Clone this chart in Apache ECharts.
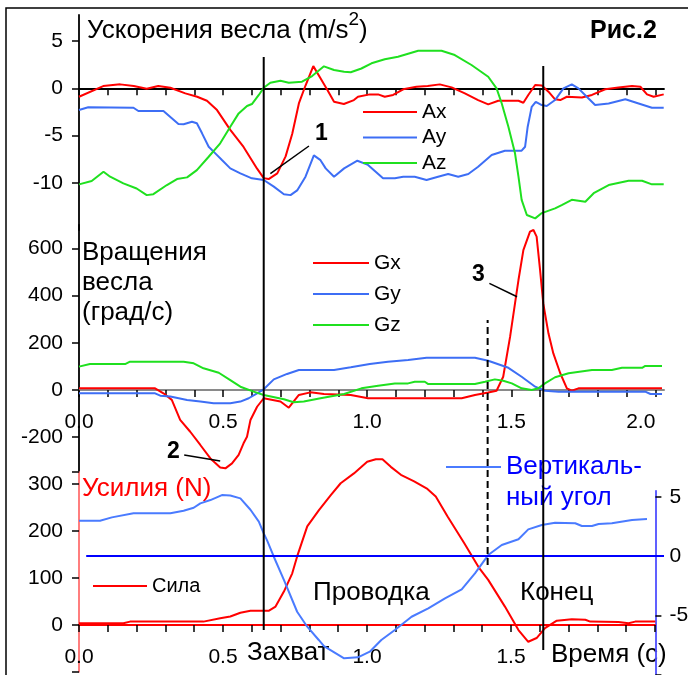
<!DOCTYPE html>
<html><head><meta charset="utf-8">
<script src="https://cdn.jsdelivr.net/npm/echarts@6/dist/echarts.min.js"></script>
<style>html,body{margin:0;padding:0;background:#fff}#c{width:688px;height:675px}</style>
</head><body><div id="c"></div>
<script>
// ---- data (time in s, value) ----
const accelX = [[0,-0.89],[0.084,0.24],[0.143,0.42],[0.19,0.24],[0.235,-0.04],[0.275,0.24],[0.317,0.06],[0.369,-0.53],[0.41,-0.89],[0.444,-1.31],[0.479,-2.3],[0.525,-4.4],[0.571,-6.2],[0.618,-8.5],[0.641,-9.5],[0.658,-9.6],[0.688,-9.0],[0.717,-7.2],[0.74,-4.8],[0.763,-1.6],[0.786,0.3],[0.813,2.35],[0.838,1.06],[0.862,-0.18],[0.885,-1.42],[0.919,-1.66],[0.954,-1.24],[0.968,-0.89],[1.009,-0.64],[1.038,-0.64],[1.061,-0.89],[1.09,-0.7],[1.125,-0.1],[1.171,0.17],[1.21,0.24],[1.252,0.42],[1.293,0.1],[1.339,-0.53],[1.385,-1.24],[1.42,-1.7],[1.455,-1.31],[1.525,-1.31],[1.542,-1.52],[1.559,-0.7],[1.583,0.35],[1.606,0.3],[1.629,-0.35],[1.652,-1.16],[1.67,-1.24],[1.693,-0.89],[1.745,-0.96],[1.78,-0.7],[1.826,-0.1],[1.872,0.1],[1.919,0.24],[1.948,0.17],[1.971,-0.64],[1.994,-0.89],[2.029,-0.64]];
const accelY = [[0,-2.3],[0.032,-2.0],[0.189,-2.05],[0.206,-2.4],[0.293,-2.4],[0.322,-3.17],[0.345,-3.78],[0.363,-3.8],[0.392,-3.53],[0.409,-3.7],[0.427,-4.76],[0.45,-6.18],[0.473,-6.88],[0.496,-7.59],[0.525,-8.47],[0.56,-9.0],[0.6,-9.52],[0.641,-9.7],[0.676,-10.4],[0.711,-11.2],[0.734,-11.3],[0.757,-10.8],[0.786,-9.35],[0.815,-7.1],[0.838,-7.6],[0.856,-8.47],[0.885,-9.35],[0.92,-8.47],[0.966,-7.66],[1.003,-8.1],[1.055,-9.52],[1.096,-9.52],[1.125,-9.35],[1.165,-9.35],[1.206,-9.7],[1.246,-9.35],[1.281,-9.07],[1.316,-9.35],[1.351,-9.07],[1.385,-8.3],[1.432,-7.06],[1.478,-6.6],[1.536,-6.6],[1.548,-6.18],[1.557,-4.06],[1.571,-1.95],[1.585,-1.42],[1.606,-1.77],[1.623,-1.87],[1.652,-1.24],[1.681,0],[1.71,0.42],[1.733,0],[1.762,-0.89],[1.791,-1.77],[1.838,-1.6],[1.896,-1.16],[1.942,-1.6],[1.988,-2.05],[2.029,-2.05]];
const accelZ = [[0,-10.16],[0.044,-9.81],[0.085,-8.82],[0.108,-9.35],[0.154,-10.05],[0.2,-10.6],[0.235,-11.3],[0.258,-11.2],[0.305,-10.23],[0.34,-9.6],[0.375,-9.42],[0.409,-8.65],[0.45,-7.24],[0.49,-5.82],[0.525,-4.06],[0.554,-2.65],[0.583,-1.87],[0.6,-1.66],[0.624,-0.7],[0.641,0.06],[0.664,0.6],[0.699,0.8],[0.728,0.6],[0.774,0.7],[0.809,1.3],[0.85,2.33],[0.885,1.94],[0.92,1.76],[0.943,1.7],[0.98,2.1],[1.015,2.65],[1.061,3.07],[1.107,3.35],[1.177,3.98],[1.258,3.98],[1.304,3.52],[1.362,2.47],[1.42,1.23],[1.449,0],[1.467,-1.6],[1.49,-4.06],[1.513,-6.88],[1.525,-9.35],[1.536,-11.8],[1.554,-13.4],[1.583,-13.76],[1.606,-13.2],[1.652,-12.7],[1.675,-12.35],[1.71,-11.8],[1.757,-12.0],[1.786,-11.1],[1.838,-10.23],[1.907,-9.78],[1.954,-9.78],[1.988,-10.16],[2.029,-10.16]];

const gyroX = [[0,7],[0.264,7],[0.293,-14],[0.322,-42],[0.351,-127],[0.386,-177],[0.421,-233],[0.456,-290],[0.49,-328],[0.508,-332],[0.531,-311],[0.554,-275],[0.571,-226],[0.583,-198],[0.595,-127],[0.618,-71],[0.641,-35],[0.699,-49],[0.728,-75],[0.763,-21],[0.803,-10],[0.85,-17],[0.943,-21],[1.003,-35],[1.328,-35],[1.374,-21],[1.42,-11],[1.449,-3],[1.472,56],[1.496,226],[1.513,367],[1.525,466],[1.542,593],[1.565,671],[1.577,678],[1.588,650],[1.6,508],[1.611,367],[1.629,240],[1.646,155],[1.67,71],[1.693,7],[1.71,-3],[1.733,7],[2.023,7]];
const gyroY = [[0,-14],[0.264,-14],[0.282,-24],[0.317,-28],[0.375,-42],[0.421,-49],[0.467,-56],[0.525,-56],[0.56,-49],[0.589,-35],[0.618,-14],[0.641,3],[0.676,45],[0.722,68],[0.763,85],[0.885,85],[0.943,96],[1.009,110],[1.072,120],[1.142,127],[1.206,137],[1.374,137],[1.42,124],[1.49,94],[1.536,56],[1.583,14],[1.617,-3],[1.664,-7],[1.965,-7],[1.983,-17],[2.023,-17]];
const gyroZ = [[0,99],[0.038,110],[0.16,110],[0.177,120],[0.363,120],[0.398,113],[0.432,92],[0.485,73],[0.525,42],[0.56,14],[0.606,-7],[0.641,-21],[0.711,-39],[0.745,-52],[0.78,-49],[0.838,-35],[0.92,-17],[0.98,7],[1.038,18],[1.096,28],[1.142,28],[1.165,35],[1.2,35],[1.212,25],[1.374,25],[1.409,35],[1.443,45],[1.472,39],[1.502,28],[1.536,7],[1.571,0],[1.594,7],[1.617,28],[1.652,54],[1.699,71],[1.78,85],[1.849,85],[1.884,94],[1.954,94],[1.965,102],[2.023,102]];

const force = [[0,3.5],[0.154,3.5],[0.177,7],[0.432,7],[0.49,14],[0.525,18],[0.56,26],[0.595,30],[0.658,30],[0.682,39],[0.711,71],[0.74,110],[0.757,146],[0.792,210],[0.832,244],[0.873,276],[0.908,302],[0.954,323],[1.0,348],[1.03,353],[1.053,353],[1.082,337],[1.117,320],[1.163,306],[1.209,290],[1.238,274],[1.279,231],[1.337,174],[1.389,121],[1.42,96],[1.478,39],[1.525,-11],[1.559,-36],[1.588,-28],[1.617,-7],[1.658,9],[1.71,12],[1.757,11],[1.774,7],[1.872,6],[1.907,3.5],[1.93,7],[2.0,7]];
const vertAngle = [[0,2.98],[0.073,2.98],[0.114,3.26],[0.189,3.6],[0.317,3.6],[0.363,3.82],[0.398,4.07],[0.421,4.44],[0.456,4.72],[0.496,5.14],[0.525,5.1],[0.56,4.86],[0.595,3.9],[0.624,2.9],[0.641,1.91],[0.653,1.3],[0.676,-0.06],[0.711,-2.02],[0.757,-4.7],[0.792,-5.96],[0.832,-7.08],[0.85,-7.6],[0.92,-8.63],[0.968,-8.54],[1.009,-8.07],[1.049,-7.08],[1.096,-6.24],[1.154,-5.12],[1.212,-4.41],[1.27,-3.57],[1.328,-2.81],[1.374,-1.46],[1.42,0.08],[1.467,0.93],[1.525,1.41],[1.559,2.25],[1.606,2.61],[1.652,2.81],[1.722,2.76],[1.745,2.53],[1.78,2.53],[1.803,2.7],[1.849,2.76],[1.919,3.04],[1.971,3.12]];
const angleZeroSpan = [0.025, 2.03];

// event times (s)
const tCatch = 0.641, tEnd = 1.611, tDash = 1.418;
// annotation leader lines (data coords)
const leader1 = [[0.664,-9.03],[0.798,-6.1]];
const leader2 = [[0.365,-275],[0.49,-301]];
const leader3 = [[1.424,452],[1.52,395]];

// tick values / labels
const xTicks = [0,0.1,0.2,0.3,0.4,0.5,0.6,0.7,0.8,0.9,1.0,1.1,1.2,1.3,1.4,1.5,1.6,1.7,1.8,1.9,2.0];
const xLabels2 = [0,0.5,1.0,1.5,2.0];
const xLabels3 = [0,0.5,1.0,1.5];
const yTicksAcc = [5,0,-5,-10];
const yTicksGyro = [600,400,200,0,-200];
const yTicksForce = [300,200,100,0];
const yTicksAngle = [5,0,-5,-10];
const yLabelsAngle = [5,0,-5];

const FONT = 'Liberation Sans';
const RED = '#ff0000', BLUE = '#3d6ef5', GREEN = '#1fe01f';
const L = 79, W = 585, XMAX = 2.03;

const chart = echarts.init(document.getElementById('c'), null, {renderer:'canvas'});

function hiddenX(grid, max){ return {type:'value', gridIndex:grid, min:0, max:max||XMAX, show:false, splitLine:{show:false}}; }
function hiddenY(grid){ return {type:'value', gridIndex:grid, min:0, max:1, show:false, splitLine:{show:false}}; }
const lbl = (extra) => Object.assign({show:true, fontFamily:FONT, fontSize:21, color:'#000', margin:16}, extra||{});
const G = (o) => Object.assign({left:L, width:W, containLabel:false, outerBoundsMode:'none'}, o);
const TICK = {color:'#000', width:1.5};
const AXL = {color:'#000', width:1.8};

const option = {
  animation:false,
  backgroundColor:'#fff',
  grid:[
    G({top:15, height:215.1}),      // 0 accelerations
    G({top:224.8, height:247.2}),   // 1 rotations
    G({top:472, height:199.8}),     // 2 force
    G({top:490.8, height:183.8}),   // 3 vertical angle
    G({top:57, height:573}),        // 4 catch line
    G({top:66, height:584}),        // 5 end line
    G({top:320, height:245}),       // 6 dashed line
    G({top:224.8, height:165.2}),   // 7 rotations x-axis (ends at zero line)
    G({top:472, height:153, width:576}) // 8 force x-axis (ends at zero line)
  ],
  xAxis:[
    {type:'value', gridIndex:0, min:0, max:XMAX, splitLine:{show:false},
     axisLine:{show:true, onZero:true, lineStyle:AXL},
     axisTick:{show:true, length:7, customValues:xTicks, lineStyle:TICK},
     axisLabel:{show:false}},
    hiddenX(1), hiddenX(2), hiddenX(3), hiddenX(4), hiddenX(5), hiddenX(6),
    {type:'value', gridIndex:7, min:0, max:XMAX, splitLine:{show:false},
     axisLine:{show:true, onZero:false, lineStyle:{color:'#8a8a8a', width:2}},
     axisTick:{show:true, length:7, customValues:xTicks, lineStyle:TICK},
     axisLabel:lbl({margin:22, customValues:xLabels2, alignMaxLabel:'right', formatter:v=>v.toFixed(1)})},
    {type:'value', gridIndex:8, min:0, max:2.0, splitLine:{show:false},
     axisLine:{show:true, onZero:false, lineStyle:{color:RED, width:2}},
     axisTick:{show:true, length:7, customValues:xTicks, lineStyle:TICK},
     axisLabel:lbl({margin:22, customValues:xLabels3, formatter:v=>v.toFixed(1)})}
  ],
  yAxis:[
    {type:'value', gridIndex:0, min:-15, max:7.76, splitLine:{show:false},
     axisLine:{show:true, onZero:false, lineStyle:AXL},
     axisTick:{show:true,length:7,customValues:yTicksAcc,lineStyle:TICK},
     axisLabel:lbl({customValues:yTicksAcc})},
    {type:'value', gridIndex:1, min:-347.5, max:700, splitLine:{show:false},
     axisLine:{show:true, onZero:false, lineStyle:AXL},
     axisTick:{show:true,length:7,customValues:yTicksGyro,lineStyle:TICK},
     axisLabel:lbl({customValues:yTicksGyro})},
    {type:'value', gridIndex:2, min:-100, max:326, interval:100, splitLine:{show:false},
     axisLine:{show:true,onZero:false,lineStyle:{color:'#ff7070',width:1.8}},
     axisTick:{show:true,length:7,lineStyle:TICK},
     axisLabel:lbl({customValues:yTicksForce})},
    {type:'value', gridIndex:3, position:'right', offset:-8.6, min:-10, max:5.5, splitLine:{show:false},
     axisLine:{show:true,onZero:false,lineStyle:{color:'#4f4fff',width:1.8}},
     axisTick:{show:true,length:6,customValues:yTicksAngle,lineStyle:TICK},
     axisLabel:lbl({customValues:yLabelsAngle, margin:14})},
    hiddenY(4), hiddenY(5), hiddenY(6), hiddenY(7), hiddenY(8)
  ],
  legend:[
    {data:['Ax','Ay','Az'], orient:'vertical', left:358, top:96.5, icon:'rect', itemWidth:54, itemHeight:2, itemGap:4.5,
     selectedMode:false, textStyle:{fontFamily:FONT,fontSize:21,color:'#000'}},
    {data:['Gx','Gy','Gz'], orient:'vertical', left:308, top:247.5, icon:'rect', itemWidth:56, itemHeight:2, itemGap:10,
     selectedMode:false, textStyle:{fontFamily:FONT,fontSize:21,color:'#000'}},
    {data:['Сила'], orient:'vertical', left:88, top:571, icon:'rect', itemWidth:54, itemHeight:2,
     selectedMode:false, textStyle:{fontFamily:FONT,fontSize:20,color:'#000'}},
    {data:['Вертикальный угол'], orient:'vertical', left:441, top:415.5, icon:'rect', itemWidth:55, itemHeight:2,
     selectedMode:false, formatter:()=>' \nВертикаль-\nный угол',
     textStyle:{fontFamily:FONT,fontSize:26,lineHeight:31,color:'#0000ff'}}
  ],
  series:[
    {name:'Ax', type:'line', xAxisIndex:0, yAxisIndex:0, data:accelX, symbol:'none', clip:false, lineStyle:{color:RED,width:2}, itemStyle:{color:RED}},
    {name:'Ay', type:'line', xAxisIndex:0, yAxisIndex:0, data:accelY, symbol:'none', clip:false, lineStyle:{color:BLUE,width:2}, itemStyle:{color:BLUE}},
    {name:'Az', type:'line', xAxisIndex:0, yAxisIndex:0, data:accelZ, symbol:'none', clip:false, lineStyle:{color:GREEN,width:2}, itemStyle:{color:GREEN}},
    {name:'Gx', type:'line', xAxisIndex:1, yAxisIndex:1, data:gyroX, symbol:'none', clip:false, lineStyle:{color:RED,width:2}, itemStyle:{color:RED}},
    {name:'Gy', type:'line', xAxisIndex:1, yAxisIndex:1, data:gyroY, symbol:'none', clip:false, lineStyle:{color:BLUE,width:2}, itemStyle:{color:BLUE}},
    {name:'Gz', type:'line', xAxisIndex:1, yAxisIndex:1, data:gyroZ, symbol:'none', clip:false, lineStyle:{color:GREEN,width:2}, itemStyle:{color:GREEN}},
    {name:'Сила', type:'line', xAxisIndex:2, yAxisIndex:2, data:force, symbol:'none', clip:false, lineStyle:{color:RED,width:2}, itemStyle:{color:RED}},
    {name:'Вертикальный угол', type:'line', xAxisIndex:3, yAxisIndex:3, data:vertAngle, symbol:'none', clip:false,
     lineStyle:{color:'#4a7bff',width:2}, itemStyle:{color:'#4a7bff'},
     markLine:{silent:true, symbol:'none', label:{show:false}, lineStyle:{color:'#0000ff',width:2,type:'solid'},
       data:[[{coord:[angleZeroSpan[0],0]},{coord:[angleZeroSpan[1],0]}]]}},
    {name:'catch', type:'line', xAxisIndex:4, yAxisIndex:4, data:[[tCatch,0],[tCatch,1]], symbol:'none', z:5, lineStyle:{color:'#000',width:2}},
    {name:'end', type:'line', xAxisIndex:5, yAxisIndex:5, data:[[tEnd,0],[tEnd,1]], symbol:'none', z:5, lineStyle:{color:'#000',width:2}},
    {name:'dash', type:'line', xAxisIndex:6, yAxisIndex:6, data:[[tDash,0],[tDash,1]], symbol:'none', z:5, lineStyle:{color:'#000',width:2,type:[7,4]}},
    {name:'l1', type:'line', xAxisIndex:0, yAxisIndex:0, data:leader1, symbol:'none', z:5, clip:false, lineStyle:{color:'#000',width:1.5}},
    {name:'l2', type:'line', xAxisIndex:1, yAxisIndex:1, data:leader2, symbol:'none', z:5, clip:false, lineStyle:{color:'#000',width:1.5}},
    {name:'l3', type:'line', xAxisIndex:1, yAxisIndex:1, data:leader3, symbol:'none', z:5, clip:false, lineStyle:{color:'#000',width:1.5}}
  ],
  graphic:[
    {type:'rect', z:-10, shape:{x:6, y:8, width:760, height:760}, style:{fill:'transparent', stroke:'#000', lineWidth:1.5}},
    {type:'text', x:87, y:31, style:{text:'Ускорения весла (m/s{s|2})', fontSize:26, fontFamily:FONT, lineHeight:42, fill:'#000', verticalAlign:'middle',
      rich:{s:{fontSize:19, fontFamily:FONT, lineHeight:19, verticalAlign:'top', fill:'#000'}}}},
    {type:'text', x:590, y:31, style:{text:'Рис.2', fontSize:25, fontWeight:'bold', fontFamily:FONT, fill:'#000', verticalAlign:'middle'}},
    {type:'text', x:315, y:134, style:{text:'1', fontSize:23, fontWeight:'bold', fontFamily:FONT, fill:'#000', verticalAlign:'middle'}},
    {type:'text', x:82, y:253, style:{text:'Вращения', fontSize:26, fontFamily:FONT, fill:'#000', verticalAlign:'middle'}},
    {type:'text', x:82, y:283, style:{text:'весла', fontSize:26, fontFamily:FONT, fill:'#000', verticalAlign:'middle'}},
    {type:'text', x:82, y:313, style:{text:'(град/с)', fontSize:26, fontFamily:FONT, fill:'#000', verticalAlign:'middle'}},
    {type:'text', x:472, y:275, style:{text:'3', fontSize:23, fontWeight:'bold', fontFamily:FONT, fill:'#000', verticalAlign:'middle'}},
    {type:'text', x:167, y:452, style:{text:'2', fontSize:23, fontWeight:'bold', fontFamily:FONT, fill:'#000', verticalAlign:'middle'}},
    {type:'text', x:82, y:489, style:{text:'Усилия (N)', fontSize:26, fontFamily:FONT, fill:RED, verticalAlign:'middle'}},
    {type:'text', x:313, y:593, style:{text:'Проводка', fontSize:26, fontFamily:FONT, fill:'#000', verticalAlign:'middle'}},
    {type:'text', x:520, y:593, style:{text:'Конец', fontSize:26, fontFamily:FONT, fill:'#000', verticalAlign:'middle'}},
    {type:'text', x:247, y:653, style:{text:'Захват', fontSize:26, fontFamily:FONT, fill:'#000', verticalAlign:'middle'}},
    {type:'text', x:551, y:655, style:{text:'Время (с)', fontSize:26, fontFamily:FONT, fill:'#000', verticalAlign:'middle'}}
  ]
};
chart.setOption(option);
</script></body></html>
